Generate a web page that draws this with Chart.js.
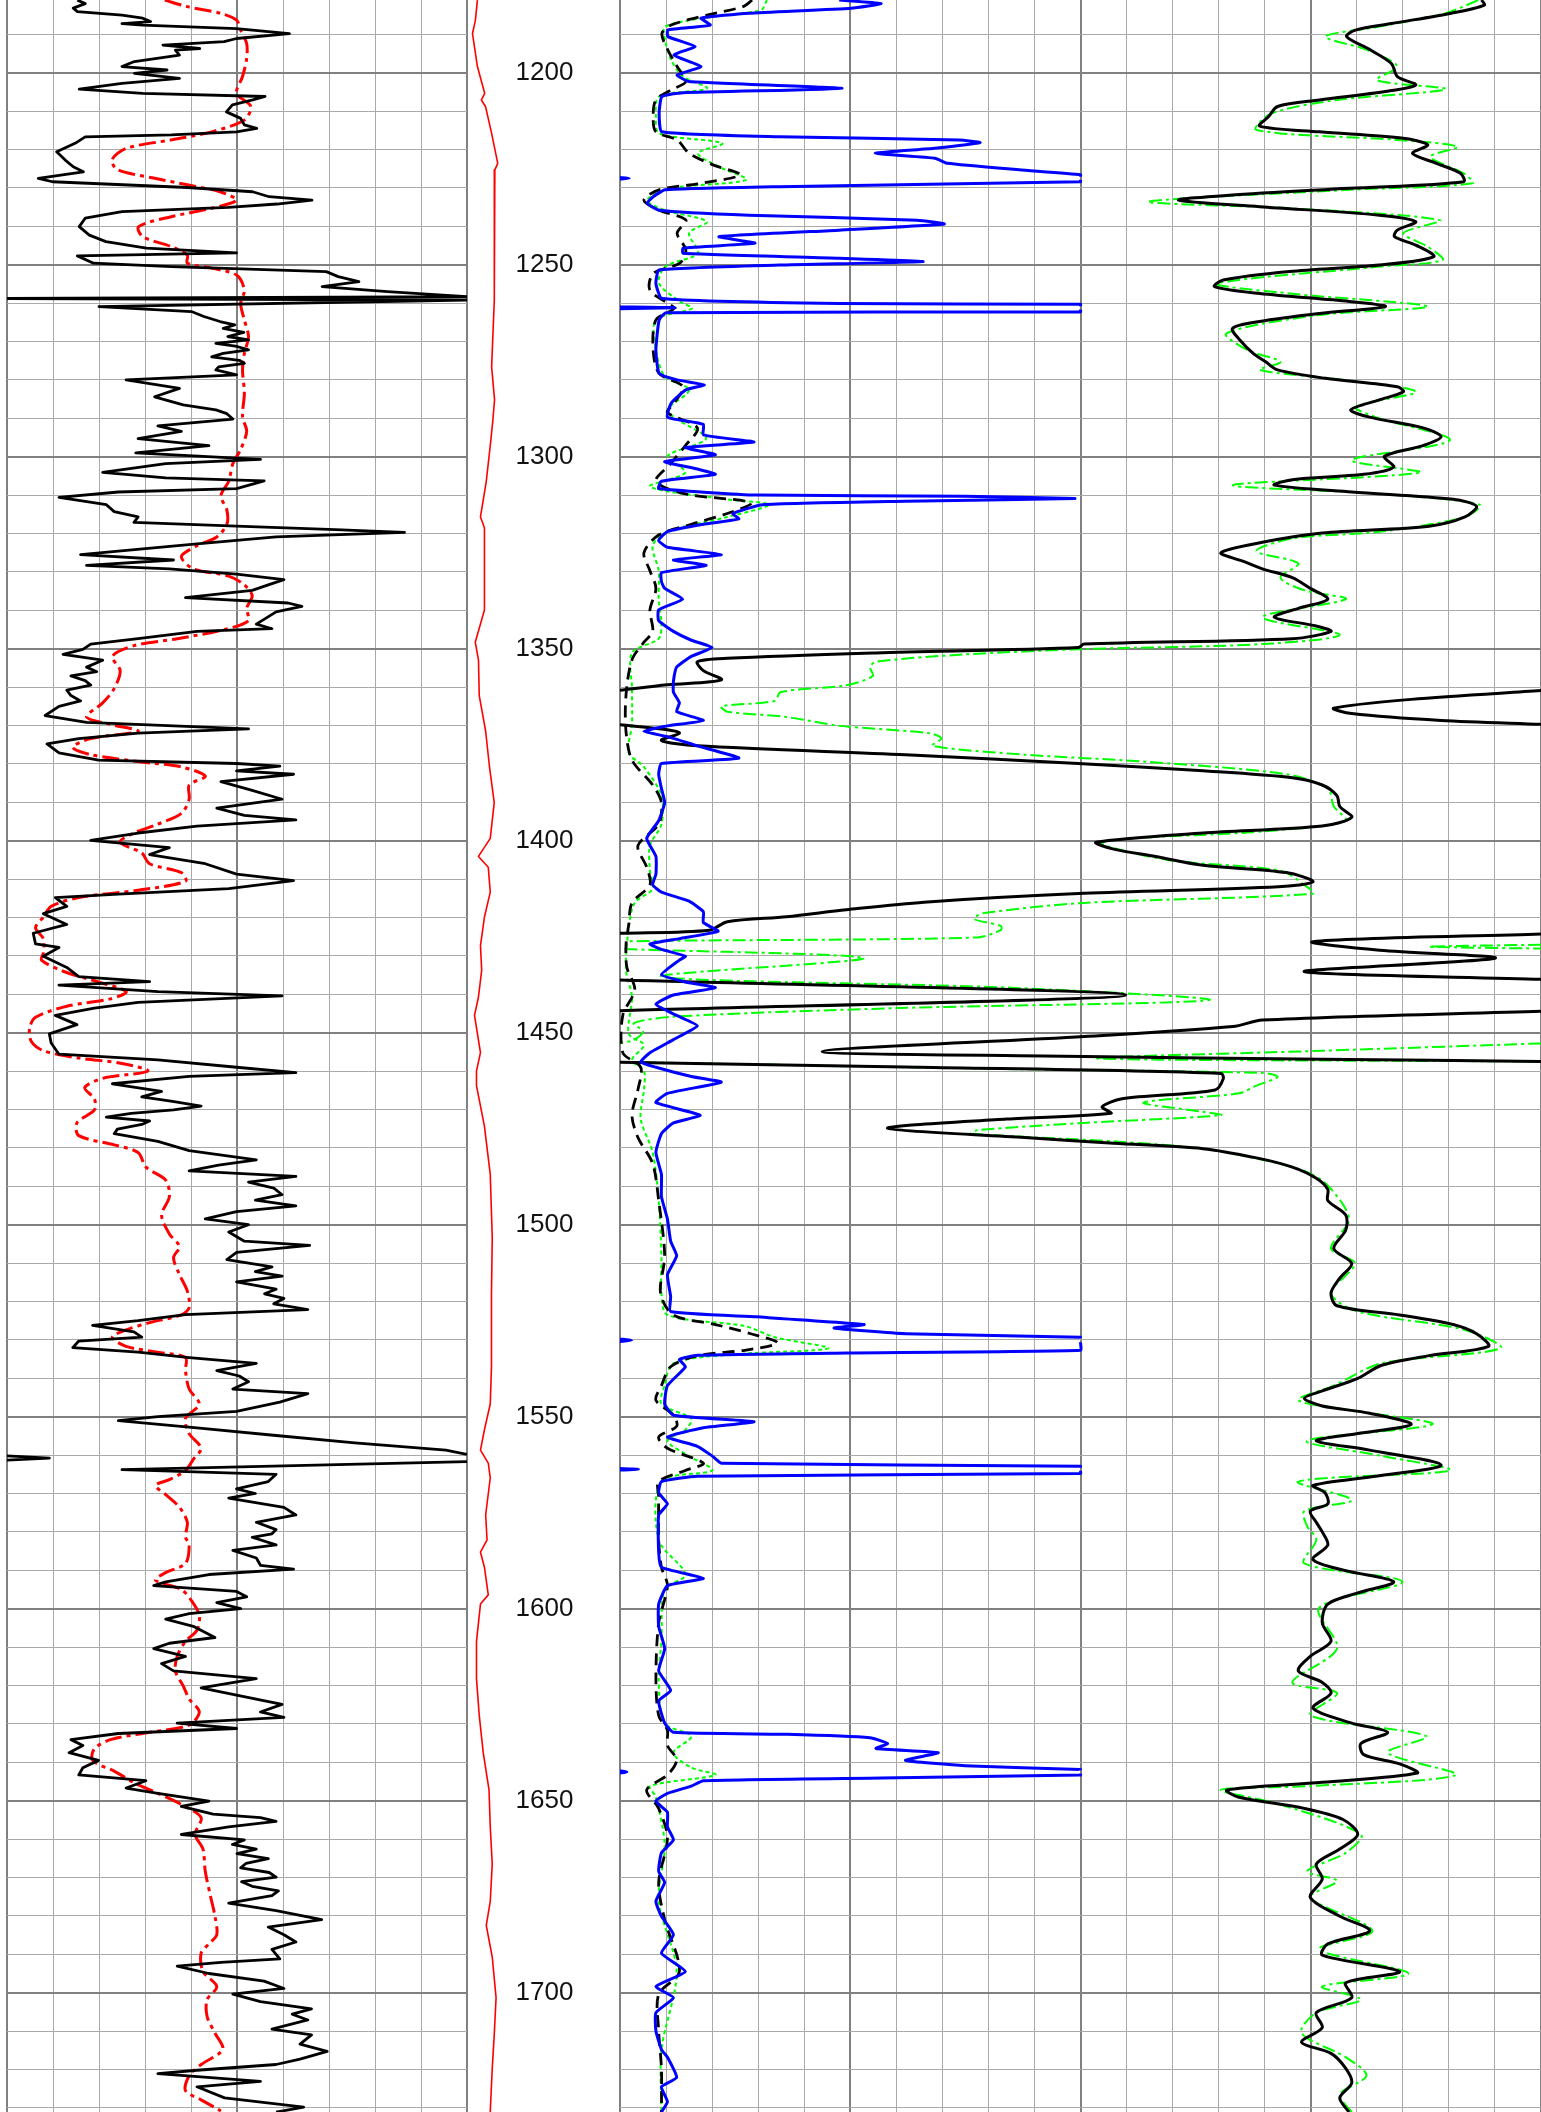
<!DOCTYPE html>
<html><head><meta charset="utf-8">
<script src="https://cdn.jsdelivr.net/npm/chart.js@4.4.1/dist/chart.umd.min.js"></script>
<style>
html,body{margin:0;padding:0;background:#fff;}
#wrap{position:relative;width:1541px;height:2112px;overflow:hidden;background:#fff;}
.trk{position:absolute;top:0;height:2112px;}
canvas{display:block;}
</style></head><body>
<div id="wrap">
 <div class="trk" style="left:0;width:470px"><canvas id="c1" width="470" height="2112"></canvas></div>
 <div class="trk" style="left:467px;width:153px"><canvas id="c2" width="153" height="2112"></canvas></div>
 <div class="trk" style="left:617px;width:924px"><canvas id="c3" width="924" height="2112"></canvas></div>
</div>
<script>
// ---- depth window and tick labels ----
const depthMin = 1181.07;
const depthMax = 1731.07;
const depthLabels = [1200,1250,1300,1350,1400,1450,1500,1550,1600,1650,1700];
const depthGridTicks = [];
for (let d = 1190; d <= 1730; d += 10) depthGridTicks.push(d);
const track1Ticks = [0,1,2,3,4,5,6,7,8,9,10];
const track23Ticks = [0,1,2,3,4,5,6,7,8,9,10,11,12,13,14,15,16,17,18,19,20];

// ---- Track 1: black log (depth, value in grid divisions 0-10) ----
const grLog = [[1181.1,1.53],[1182.0,1.70],[1183.2,1.44],[1184.1,1.53],[1185.0,2.50],[1185.8,2.95],[1186.7,3.12],[1187.2,2.50],[1187.6,2.95],[1188.5,4.99],[1189.8,6.14],[1191.1,4.99],[1191.9,4.72],[1192.8,3.39],[1193.7,4.19],[1194.1,3.66],[1195.4,3.75],[1197.1,2.77],[1198.4,2.50],[1199.3,3.48],[1200.2,2.77],[1201.5,3.75],[1202.8,2.50],[1204.3,1.57],[1205.4,2.95],[1206.2,5.61],[1207.1,5.34],[1208.4,4.90],[1210.2,4.77],[1211.9,5.08],[1213.6,5.16],[1214.5,5.43],[1215.4,4.99],[1216.2,3.57],[1216.7,1.70],[1218.4,1.48],[1220.6,1.08],[1222.7,1.26],[1224.5,1.44],[1225.8,1.66],[1227.5,0.68],[1228.4,0.99],[1229.9,3.92],[1231.0,5.34],[1232.3,5.70],[1233.2,6.63],[1234.2,5.87],[1235.1,4.81],[1236.2,2.50],[1237.9,1.70],[1240.1,1.57],[1242.3,1.79],[1244.0,2.15],[1245.7,3.03],[1246.9,4.99],[1247.7,1.53],[1249.6,1.88],[1250.5,3.57],[1251.8,6.94],[1253.1,7.20],[1254.4,7.65],[1255.7,6.85],[1257.0,8.27],[1258.3,10],[1258.8,0],[1259.2,10],[1260.9,2.00],[1262.2,4.01],[1263.5,4.28],[1264.8,4.63],[1265.7,4.95],[1266.6,4.70],[1267.6,5.15],[1268.7,4.80],[1269.6,5.25],[1270.5,4.54],[1271.3,5.00],[1272.2,5.25],[1273.1,4.70],[1274.0,4.45],[1274.9,5.05],[1275.7,5.16],[1276.6,4.60],[1277.4,4.54],[1278.7,4.99],[1280.0,2.59],[1282.2,3.75],[1284.4,3.21],[1286.5,3.83],[1287.8,4.54],[1288.8,4.78],[1290.2,4.91],[1292.0,3.28],[1293.4,3.79],[1295.3,2.85],[1297.1,4.39],[1299.0,2.80],[1300.7,5.51],[1301.8,3.45],[1304.1,2.08],[1305.5,3.45],[1306.3,5.59],[1308.3,4.99],[1309.2,2.42],[1310.6,1.13],[1312.5,2.16],[1314.3,2.33],[1315.7,2.85],[1317.1,2.76],[1318.1,4.99],[1319.0,7.14],[1319.7,8.64],[1320.9,5.85],[1322.7,4.13],[1324.6,2.42],[1325.5,1.60],[1326.9,3.62],[1328.3,1.73],[1329.2,3.53],[1330.6,4.99],[1332.0,6.02],[1333.4,5.68],[1334.8,5.33],[1336.7,3.88],[1338.1,6.11],[1339.0,6.41],[1340.4,5.85],[1343.6,5.42],[1344.8,5.76],[1345.5,4.13],[1347.4,2.85],[1348.8,1.82],[1350.2,1.65],[1351.5,1.22],[1353.0,2.08],[1354.8,1.73],[1356.0,1.95],[1357.1,1.39],[1358.3,1.70],[1359.5,1.82],[1360.8,1.30],[1362.2,1.39],[1363.6,1.60],[1365.0,1.13],[1367.4,0.83],[1369.2,1.73],[1370.9,5.25],[1372.0,2.85],[1373.4,1.56],[1374.8,0.87],[1377.1,1.13],[1379.0,1.99],[1379.9,4.99],[1380.6,5.93],[1381.8,4.99],[1382.7,6.23],[1384.6,4.65],[1386.9,5.33],[1389.2,5.98],[1391.5,4.56],[1393.4,5.16],[1394.6,6.28],[1396.2,4.13],[1398.0,2.85],[1399.9,1.82],[1401.8,3.53],[1403.6,3.10],[1406.0,4.31],[1408.7,4.99],[1410.4,6.23],[1412.5,4.82],[1413.9,2.42],[1414.8,1.05],[1417.1,1.30],[1419.0,0.79],[1421.8,1.30],[1424.1,0.57],[1426.9,0.62],[1427.8,1.13],[1430.1,0.79],[1433.0,1.30],[1435.4,1.56],[1436.7,3.10],[1437.6,1.13],[1439.3,3.28],[1440.4,5.98],[1442.1,2.85],[1443.6,1.90],[1445.5,1.05],[1447.9,1.52],[1450.3,0.92],[1452.7,0.96],[1455.6,1.13],[1457.1,3.28],[1459.0,4.99],[1460.4,6.28],[1461.4,3.96],[1463.3,2.29],[1465.3,3.36],[1466.7,2.93],[1467.9,3.60],[1469.1,4.22],[1470.1,3.62],[1471.0,2.70],[1472.0,2.16],[1473.0,3.10],[1473.9,2.93],[1475.1,2.40],[1476.3,2.33],[1478.3,3.28],[1480.7,3.96],[1483.1,5.42],[1484.5,4.60],[1486.0,3.96],[1487.4,6.28],[1488.9,5.25],[1490.5,5.80],[1492.2,5.98],[1493.6,5.40],[1495.1,6.28],[1496.6,4.99],[1498.5,4.31],[1500.0,5.25],[1501.9,4.82],[1504.3,5.16],[1505.4,6.58],[1507.2,4.99],[1509.1,4.78],[1511.0,5.76],[1512.2,5.40],[1513.4,5.98],[1514.9,4.99],[1516.8,5.85],[1518.0,5.60],[1519.2,6.02],[1520.6,5.80],[1522.1,6.54],[1523.4,3.88],[1525.0,2.85],[1526.2,1.86],[1527.9,2.76],[1529.3,2.93],[1530.3,1.56],[1532.0,1.43],[1533.2,2.85],[1534.6,3.96],[1536.1,5.42],[1538.0,4.56],[1539.4,5.05],[1540.9,5.25],[1542.8,4.91],[1544.0,6.54],[1546.2,5.93],[1548.6,4.99],[1550.0,3.28],[1551.0,2.42],[1552.9,4.13],[1554.9,5.85],[1556.8,7.56],[1558.7,9.54],[1559.8,10],[1560.0,null],[1560.2,0],[1560.8,0.92],[1561.3,0],[1561.5,null],[1561.7,10],[1563.8,2.50],[1565.0,5.85],[1566.9,5.68],[1568.8,4.99],[1570.0,5.40],[1571.2,4.82],[1573.6,6.02],[1575.6,6.28],[1577.5,5.42],[1579.4,5.85],[1580.5,5.76],[1581.4,5.33],[1583.4,5.85],[1584.8,4.91],[1586.8,5.42],[1588.7,5.51],[1589.7,6.23],[1591.1,4.39],[1593.0,3.45],[1594.0,3.19],[1595.5,4.99],[1596.9,5.21],[1598.4,4.56],[1600.0,5.08],[1601.3,3.96],[1602.7,3.45],[1604.6,4.05],[1607.5,4.52],[1609.0,3.53],[1610.4,3.19],[1612.4,3.88],[1614.3,3.36],[1616.2,3.62],[1618.2,5.42],[1620.6,4.22],[1622.5,4.99],[1624.9,5.98],[1626.9,5.51],[1628.3,6.02],[1629.8,3.70],[1631.2,4.99],[1632.5,2.42],[1634.1,1.39],[1635.6,1.65],[1637.5,1.35],[1639.5,1.99],[1641.4,1.65],[1643.3,1.56],[1644.8,3.02],[1646.7,2.59],[1648.1,3.28],[1650.1,4.39],[1651.5,3.79],[1653.5,4.48],[1654.4,5.51],[1655.4,5.85],[1656.8,4.82],[1658.8,3.79],[1660.2,5.16],[1661.4,4.90],[1662.6,5.42],[1663.8,5.00],[1665.1,5.68],[1666.3,5.20],[1667.5,5.08],[1668.7,5.70],[1669.9,5.85],[1671.1,5.10],[1672.3,5.33],[1673.5,5.90],[1674.7,5.76],[1676.7,4.82],[1678.6,5.85],[1681.0,6.84],[1682.9,5.68],[1684.9,6.02],[1686.8,6.28],[1688.7,5.76],[1691.2,5.93],[1692.1,4.65],[1693.1,3.70],[1695.0,4.39],[1697.0,5.59],[1698.9,6.02],[1700.4,4.91],[1702.3,5.51],[1704.2,6.62],[1705.6,6.20],[1707.1,6.54],[1709.5,5.76],[1711.0,6.62],[1713.4,6.37],[1715.3,6.96],[1717.3,6.37],[1718.7,5.85],[1720.2,4.13],[1721.1,3.28],[1723.1,5.51],[1724.5,4.13],[1727.4,4.73],[1729.8,6.45],[1731.1,5.85]];

// ---- Track 1: red dash-dot log ----
const redLog = [[1181.1,3.43],[1182.8,3.92],[1184.5,4.63],[1186.3,4.99],[1188.9,5.08],[1192.4,5.21],[1196.3,5.21],[1201.0,5.12],[1205.4,4.99],[1208.8,5.30],[1212.3,5.16],[1215.4,4.45],[1217.5,3.57],[1219.7,2.59],[1222.7,2.28],[1225.3,2.41],[1227.5,3.21],[1229.2,3.92],[1231.0,4.63],[1233.2,4.99],[1235.3,4.45],[1237.5,3.57],[1240.1,2.86],[1242.7,2.95],[1245.3,3.57],[1247.5,3.92],[1249.6,3.92],[1250.9,4.45],[1252.7,4.99],[1256.6,5.16],[1260.1,5.08],[1264.4,5.16],[1268.7,5.25],[1273.1,5.16],[1277.4,5.12],[1283.5,5.16],[1289.6,5.12],[1293.4,5.21],[1298.1,5.08],[1301.8,4.91],[1306.4,4.82],[1310.2,4.65],[1313.9,4.78],[1317.6,4.78],[1320.9,4.56],[1323.2,4.13],[1326.0,3.79],[1329.2,4.05],[1331.1,4.82],[1333.4,5.16],[1336.2,5.33],[1339.5,5.21],[1342.7,5.25],[1345.0,4.73],[1347.4,3.70],[1349.2,2.76],[1352.0,2.29],[1355.7,2.46],[1360.4,2.33],[1364.1,2.08],[1367.8,1.73],[1369.7,2.25],[1371.5,2.85],[1373.4,1.82],[1375.7,1.43],[1377.6,1.82],[1379.4,2.85],[1380.8,3.79],[1383.2,4.31],[1385.5,3.96],[1389.2,3.96],[1392.9,3.79],[1395.7,3.28],[1398.0,2.76],[1400.4,2.46],[1403.2,2.93],[1406.0,3.10],[1408.3,3.79],[1410.6,3.88],[1412.9,2.85],[1414.8,1.56],[1417.1,0.96],[1419.9,0.79],[1422.7,0.62],[1425.5,0.79],[1429.2,0.79],[1431.1,0.75],[1434.0,1.22],[1436.8,1.99],[1439.3,2.59],[1441.2,2.25],[1443.1,1.30],[1446.0,0.62],[1448.9,0.49],[1452.3,0.53],[1454.7,0.79],[1456.6,1.56],[1458.0,2.50],[1460.0,3.06],[1461.9,2.08],[1464.3,1.69],[1467.2,1.90],[1470.1,1.90],[1473.5,1.52],[1476.8,1.56],[1479.2,2.33],[1481.2,2.85],[1485.0,3.02],[1488.4,3.45],[1492.7,3.53],[1497.5,3.36],[1502.4,3.53],[1505.7,3.75],[1508.6,3.62],[1513.0,3.75],[1517.3,3.92],[1521.6,3.96],[1523.5,3.79],[1525.5,3.10],[1527.4,2.59],[1529.3,2.29],[1531.7,2.59],[1533.2,3.28],[1534.6,3.88],[1538.0,3.88],[1542.8,3.96],[1546.7,4.18],[1550.5,3.88],[1554.4,3.96],[1558.2,4.22],[1561.1,4.05],[1564.0,3.88],[1566.4,3.53],[1567.9,3.23],[1570.3,3.45],[1573.6,3.75],[1577.5,3.92],[1581.3,3.88],[1583.4,3.96],[1588.2,3.88],[1590.6,3.45],[1592.6,3.23],[1595.0,3.79],[1597.9,4.01],[1601.7,4.18],[1605.6,4.13],[1608.5,3.88],[1612.4,3.70],[1616.2,3.66],[1620.1,3.83],[1623.5,3.96],[1626.9,4.18],[1630.3,3.96],[1632.2,3.10],[1634.1,2.25],[1636.5,1.90],[1639.5,1.86],[1642.3,2.33],[1645.3,2.76],[1648.1,3.28],[1651.0,3.79],[1654.4,4.22],[1658.8,4.09],[1662.6,4.26],[1668.4,4.31],[1675.2,4.43],[1680.0,4.52],[1684.9,4.56],[1687.3,4.39],[1689.7,4.22],[1694.5,4.26],[1698.4,4.56],[1701.8,4.35],[1706.2,4.35],[1710.5,4.52],[1714.8,4.69],[1718.7,4.22],[1721.6,3.96],[1725.5,3.88],[1727.9,4.22],[1730.8,4.65]];

// ---- Depth track: thin red log ----
const depthTrackLog = [[1181.1,0.68],[1186.3,0.55],[1189.8,0.36],[1198.4,0.68],[1205.4,1.16],[1207.1,0.94],[1208.8,1.21],[1215.8,1.61],[1223.6,2.01],[1225.3,1.82],[1241.8,1.80],[1259.2,1.77],[1276.6,1.61],[1285.2,1.80],[1290.5,1.69],[1297.1,1.52],[1306.4,1.26],[1315.7,0.88],[1318.5,1.14],[1329.7,1.14],[1339.9,1.14],[1348.3,0.54],[1352.9,0.75],[1362.2,0.80],[1371.5,1.22],[1380.8,1.47],[1390.1,1.78],[1399.4,1.52],[1404.1,0.75],[1406.9,1.39],[1413.4,1.52],[1419.9,1.14],[1427.3,0.88],[1433.7,0.96],[1440.7,0.75],[1445.5,0.49],[1455.2,0.88],[1460.0,0.62],[1463.8,0.62],[1474.4,1.14],[1486.9,1.52],[1503.3,1.65],[1517.8,1.60],[1537.0,1.60],[1546.7,1.52],[1553.4,1.14],[1558.7,0.88],[1562.1,1.39],[1565.9,1.52],[1575.6,1.22],[1582.1,1.31],[1585.3,0.88],[1589.2,1.14],[1596.4,1.39],[1598.8,0.88],[1608.5,0.62],[1618.2,0.62],[1627.8,0.80],[1637.5,1.06],[1647.2,1.44],[1656.8,1.52],[1666.5,1.65],[1676.2,1.52],[1682.5,1.26],[1690.7,1.65],[1701.3,1.90],[1711.0,1.78],[1719.7,1.65],[1731.1,1.52]];

// ---- Track 2: blue log (scale 0-20 spans tracks 2 and 3) ----
const blueLog = [[1181.1,4.76],[1182.0,5.67],[1183.2,5.02],[1184.5,2.80],[1185.8,1.76],[1187.6,1.96],[1188.9,1.04],[1190.6,1.04],[1193.2,1.63],[1195.4,1.17],[1198.4,1.76],[1200.6,1.24],[1202.3,1.50],[1204.1,4.82],[1205.2,1.37],[1206.2,0.91],[1210.6,0.85],[1215.4,0.91],[1216.7,3.46],[1217.5,7.37],[1218.2,7.82],[1219.7,6.84],[1221.0,5.54],[1222.3,6.84],[1223.6,7.11],[1225.3,8.67],[1226.6,10],[1227.1,10],[1227.2,null],[1227.3,0],[1227.5,0.2],[1227.7,0],[1227.8,null],[1227.9,10],[1228.4,10],[1229.7,3.46],[1230.5,0.98],[1232.3,0.72],[1234.0,0.59],[1235.8,0.85],[1237.1,2.80],[1238.4,6.45],[1239.4,7.04],[1241.0,4.76],[1242.7,2.15],[1244.4,2.93],[1245.7,1.37],[1247.0,1.37],[1248.3,4.76],[1249.2,6.58],[1250.1,3.46],[1251.4,0.85],[1254.9,0.78],[1258.8,0.91],[1260.1,4.76],[1260.3,10],[1260.8,10],[1260.9,null],[1261.0,0],[1261.2,1.2],[1261.5,0],[1261.6,null],[1261.7,10],[1262.3,10],[1262.5,1.0],[1264.4,0.85],[1272.2,0.78],[1278.3,0.85],[1280.0,1.24],[1281.3,1.83],[1282.6,1.43],[1286.1,1.11],[1289.7,1.03],[1291.6,1.81],[1294.3,1.81],[1296.2,2.91],[1297.6,1.42],[1299.5,2.07],[1301.3,0.97],[1303.2,1.68],[1304.6,2.07],[1306.4,0.90],[1308.3,0.84],[1310.0,2.97],[1310.3,7.49],[1310.9,9.88],[1311.6,6.20],[1312.5,3.10],[1314.8,2.45],[1316.2,2.58],[1317.6,1.81],[1319.5,1.03],[1321.8,0.84],[1323.6,1.03],[1325.5,2.20],[1326.9,1.16],[1328.3,1.87],[1330.2,0.90],[1332.5,0.90],[1334.3,0.97],[1337.1,1.36],[1339.9,0.84],[1342.7,0.84],[1345.5,1.16],[1347.8,1.55],[1349.7,2.00],[1352.0,1.55],[1354.8,1.23],[1358.5,1.16],[1361.3,1.16],[1364.1,1.29],[1366.4,1.23],[1368.7,1.81],[1370.1,1.03],[1371.5,0.52],[1372.9,1.03],[1375.3,1.68],[1378.5,2.58],[1379.9,0.90],[1382.7,0.84],[1386.4,0.90],[1390.1,0.97],[1394.8,0.84],[1399.4,0.58],[1404.1,0.78],[1408.7,0.78],[1411.5,0.71],[1413.4,0.90],[1415.7,1.49],[1418.5,1.81],[1421.3,1.81],[1423.6,2.13],[1425.5,1.29],[1426.9,0.65],[1428.3,0.90],[1430.1,1.42],[1431.1,1.29],[1434.9,0.90],[1436.8,1.42],[1438.3,2.07],[1440.2,1.16],[1442.6,0.78],[1445.5,1.23],[1448.2,1.68],[1451.8,1.16],[1455.2,0.65],[1457.6,0.45],[1459.0,0.78],[1461.4,1.55],[1462.9,2.20],[1465.8,1.03],[1468.2,0.78],[1471.5,1.74],[1473.5,1.16],[1476.3,0.90],[1481.2,0.78],[1486.9,0.90],[1492.7,0.90],[1498.5,1.03],[1504.3,1.10],[1508.1,1.23],[1513.0,1.03],[1518.7,1.10],[1522.6,1.10],[1524.0,2.97],[1526.0,5.30],[1526.9,4.65],[1528.4,6.20],[1529.3,10],[1529.6,10],[1529.7,null],[1529.8,0],[1530.1,0.25],[1530.4,0],[1530.5,null],[1530.6,10],[1532.7,10],[1533.4,4.91],[1534.0,1.68],[1535.1,1.29],[1537.0,1.42],[1541.9,1.03],[1546.7,0.97],[1549.6,1.16],[1551.3,2.91],[1552.9,1.81],[1555.3,1.03],[1557.7,1.68],[1560.2,2.00],[1562.1,2.20],[1562.9,10],[1563.3,10],[1563.4,null],[1563.5,0],[1563.7,0.4],[1563.9,0],[1564.0,null],[1564.1,10],[1564.8,10],[1565.5,1.68],[1566.9,0.90],[1569.8,0.84],[1572.7,1.03],[1575.6,0.84],[1585.3,0.84],[1589.2,0.90],[1592.1,1.81],[1594.0,1.03],[1598.8,0.84],[1604.6,0.84],[1610.4,0.97],[1616.2,0.84],[1621.3,1.10],[1624.0,0.84],[1629.8,0.97],[1632.2,1.16],[1632.7,3.62],[1633.6,5.43],[1635.1,5.81],[1636.4,5.56],[1637.5,6.91],[1639.5,6.20],[1640.9,7.49],[1641.9,10],[1642.1,10],[1642.15,null],[1642.2,0],[1642.5,0.15],[1642.8,0],[1642.85,null],[1642.9,10],[1643.3,10],[1644.1,5.68],[1644.8,1.81],[1646.2,1.55],[1648.1,1.03],[1650.1,0.78],[1653.0,1.03],[1656.8,1.03],[1660.2,1.16],[1663.6,0.90],[1668.4,0.84],[1671.3,0.97],[1676.2,0.78],[1680.1,0.90],[1684.9,1.16],[1689.7,0.90],[1694.5,1.42],[1698.4,0.78],[1701.3,1.16],[1705.2,0.78],[1710.0,0.78],[1714.8,0.90],[1716.8,1.03],[1722.1,1.23],[1724.5,0.90],[1728.4,1.03],[1731.1,0.90]];

// ---- Track 2: black dashed log ----
const dashLog = [[1181.1,2.87],[1182.8,2.67],[1185.0,1.89],[1187.6,1.11],[1189.8,0.91],[1194.1,1.04],[1198.4,1.24],[1202.3,1.43],[1204.5,1.11],[1207.1,0.78],[1211.5,0.72],[1215.4,0.78],[1217.5,1.24],[1221.0,1.50],[1224.0,2.02],[1226.6,2.61],[1228.8,1.76],[1230.5,0.85],[1233.2,0.52],[1235.8,0.85],[1238.4,1.43],[1241.8,1.24],[1246.2,1.43],[1249.6,1.30],[1252.3,0.72],[1256.6,0.65],[1260.1,1.04],[1261.4,1.17],[1264.4,0.78],[1272.2,0.72],[1278.3,0.85],[1281.8,1.37],[1286.1,1.17],[1288.5,1.03],[1292.5,1.68],[1297.1,1.42],[1301.8,1.10],[1306.4,0.78],[1309.7,1.42],[1312.0,2.84],[1314.8,2.33],[1317.6,1.55],[1320.4,0.84],[1325.0,0.52],[1329.7,0.65],[1334.3,0.78],[1339.9,0.65],[1345.5,0.71],[1348.3,0.52],[1352.9,0.26],[1362.2,0.13],[1371.5,0.13],[1379.0,0.26],[1385.5,0.71],[1390.1,0.90],[1395.7,0.84],[1401.3,0.39],[1406.9,0.58],[1411.5,0.65],[1416.2,0.26],[1421.8,0.19],[1427.3,0.13],[1433.0,0.15],[1438.8,0.32],[1445.5,0.06],[1455.2,0.06],[1459.0,0.45],[1464.8,0.39],[1471.5,0.26],[1477.3,0.39],[1484.1,0.71],[1493.7,0.84],[1508.1,0.97],[1517.8,0.88],[1523.5,1.16],[1526.0,2.07],[1528.4,2.84],[1530.8,3.42],[1532.7,2.71],[1534.1,1.68],[1537.0,1.10],[1541.9,0.90],[1545.7,0.78],[1549.6,1.16],[1552.5,1.23],[1555.3,0.84],[1558.2,1.03],[1562.1,1.81],[1564.0,1.42],[1566.9,0.84],[1570.8,0.84],[1582.1,0.84],[1589.2,0.90],[1594.0,1.03],[1603.7,0.84],[1618.2,0.78],[1627.8,0.84],[1631.7,1.03],[1635.6,1.03],[1639.4,1.23],[1643.3,1.03],[1647.2,0.58],[1652.0,0.84],[1659.7,1.03],[1671.3,0.84],[1681.0,0.97],[1694.5,1.29],[1700.4,0.84],[1710.0,0.84],[1719.7,0.90],[1731.1,0.90]];

// ---- Track 2: green dotted log ----
const dotLog = [[1181.1,3.19],[1183.7,3.06],[1185.4,2.02],[1188.0,0.98],[1191.5,0.98],[1196.7,1.11],[1201.0,1.37],[1204.1,1.89],[1206.2,0.85],[1211.5,0.78],[1215.8,0.85],[1218.4,2.22],[1221.0,1.69],[1224.5,2.15],[1227.9,2.74],[1230.1,1.11],[1233.2,0.59],[1235.8,0.98],[1238.8,1.89],[1241.8,1.50],[1247.0,1.69],[1250.5,0.98],[1254.9,0.85],[1259.6,1.30],[1261.4,1.56],[1264.4,0.78],[1272.2,0.78],[1279.2,0.98],[1282.6,1.50],[1287.8,1.03],[1290.6,1.29],[1295.3,1.87],[1299.9,1.03],[1304.1,1.42],[1307.8,0.65],[1311.1,2.33],[1312.5,3.23],[1315.7,2.33],[1319.5,1.03],[1323.2,0.71],[1329.7,0.84],[1337.1,0.84],[1343.6,0.90],[1347.4,0.84],[1351.1,0.26],[1360.4,0.26],[1369.7,0.26],[1377.1,0.19],[1380.8,0.52],[1388.3,0.90],[1395.7,0.90],[1401.3,0.65],[1407.8,0.65],[1412.5,0.71],[1416.2,0.32],[1422.7,0.19],[1433.7,0.13],[1440.7,0.26],[1450.3,0.19],[1453.2,0.52],[1457.1,0.26],[1460.0,0.52],[1464.8,0.52],[1472.5,0.45],[1481.2,0.71],[1493.7,0.84],[1508.1,0.90],[1517.8,0.90],[1523.5,1.03],[1526.4,2.71],[1529.3,3.36],[1532.2,4.52],[1533.7,2.58],[1536.1,1.16],[1541.9,0.97],[1546.7,0.90],[1550.5,1.55],[1553.4,1.42],[1556.3,1.03],[1560.6,1.55],[1564.0,2.00],[1566.9,0.90],[1582.1,0.84],[1591.1,1.42],[1595.0,0.97],[1608.5,0.90],[1618.2,0.84],[1629.8,0.97],[1633.2,1.55],[1637.5,1.16],[1641.4,1.55],[1643.3,2.07],[1646.2,0.65],[1649.1,0.78],[1661.7,0.97],[1676.2,0.84],[1694.5,1.23],[1714.8,0.90],[1731.1,0.90]];

// ---- Track 3: black solid log (wraps across tracks 2+3) ----
const solid3Log = [[1181.1,18.71],[1182.4,18.77],[1184.5,18.06],[1187.2,16.75],[1188.9,15.97],[1190.6,15.78],[1194.1,16.30],[1197.6,16.75],[1201.0,16.88],[1203.2,17.28],[1204.9,16.62],[1207.1,15.19],[1208.8,14.28],[1211.5,14.08],[1213.9,13.89],[1215.4,15.19],[1217.1,17.01],[1218.8,17.54],[1221.0,17.21],[1223.6,17.73],[1226.2,18.25],[1228.4,18.32],[1230.1,15.84],[1231.9,13.23],[1233.2,12.13],[1234.9,13.89],[1237.1,16.49],[1238.8,17.28],[1241.0,16.88],[1242.7,16.82],[1244.9,17.28],[1247.9,17.67],[1250.1,16.49],[1251.8,14.54],[1254.0,13.10],[1255.7,12.91],[1257.5,13.89],[1259.6,15.84],[1260.9,16.62],[1262.7,15.19],[1264.8,13.89],[1266.6,13.30],[1270.0,13.49],[1273.1,13.75],[1275.3,14.02],[1277.4,14.28],[1279.6,15.32],[1281.8,16.88],[1283.1,17.01],[1285.2,16.49],[1287.8,15.87],[1289.7,16.28],[1292.5,17.44],[1294.8,17.83],[1297.1,17.44],[1299.9,16.60],[1302.7,16.80],[1304.6,16.15],[1306.0,14.60],[1307.4,14.21],[1309.2,15.89],[1311.1,18.09],[1312.9,18.60],[1315.7,18.35],[1318.1,17.57],[1319.9,15.25],[1322.3,13.95],[1325.0,13.05],[1327.4,13.57],[1329.2,13.95],[1331.5,14.60],[1334.3,14.99],[1337.1,15.37],[1339.5,14.73],[1341.8,14.21],[1344.1,15.12],[1345.5,15.44],[1347.4,14.60],[1348.8,10.08],[1349.7,9.95],[1351.1,5.56],[1352.5,2.33],[1353.4,1.68],[1355.7,1.81],[1358.1,2.20],[1359.4,1.03],[1360.8,0],[1360.85,null],[1360.9,20],[1363.2,17.18],[1365.5,15.50],[1366.9,15.89],[1368.7,17.83],[1369.7,20],[1369.75,null],[1369.8,0],[1371.1,1.03],[1372.0,1.29],[1373.9,0.90],[1375.3,1.68],[1377.6,6.20],[1379.9,9.95],[1381.8,12.66],[1383.6,14.60],[1385.5,15.25],[1388.3,15.57],[1391.1,15.63],[1393.9,15.89],[1396.2,15.25],[1398.0,12.66],[1400.4,10.34],[1402.2,10.72],[1404.1,11.63],[1406.4,12.66],[1408.3,14.47],[1410.7,15.05],[1412.0,14.30],[1413.7,10.08],[1416.0,6.60],[1418.0,4.91],[1419.8,3.62],[1421.1,2.33],[1423.3,1.94],[1424.1,0],[1424.15,null],[1424.3,20],[1426.3,15.05],[1428.5,16.50],[1430.6,19.0],[1434.1,14.86],[1436.1,20],[1436.2,null],[1436.3,0],[1440.2,10.98],[1444.3,0],[1444.35,null],[1444.4,20],[1446.7,13.95],[1448.4,13.31],[1451.0,10.08],[1454.9,4.39],[1456.2,10.08],[1456.9,15.25],[1457.5,20],[1457.6,null],[1457.7,0],[1459.0,6.50],[1460.6,13.05],[1462.0,13.10],[1464.9,12.92],[1467.2,10.90],[1469.3,10.47],[1471.0,10.66],[1472.5,8.40],[1474.9,5.81],[1477.3,8.79],[1478.8,10.72],[1480.2,12.66],[1482.6,13.82],[1485.0,14.60],[1487.9,15.12],[1490.8,15.37],[1493.7,15.37],[1497.5,15.76],[1501.4,15.76],[1506.2,15.50],[1510.1,15.89],[1513.9,15.63],[1517.8,15.44],[1521.1,15.57],[1523.5,16.93],[1526.0,18.09],[1528.4,18.60],[1531.7,18.86],[1534.1,17.57],[1536.6,16.54],[1540.0,16.02],[1543.3,15.25],[1545.2,14.86],[1547.2,15.25],[1549.1,16.28],[1552.0,17.18],[1554.4,16.02],[1556.3,15.12],[1558.7,16.28],[1562.6,17.83],[1565.5,16.41],[1567.9,15.05],[1569.8,15.31],[1572.7,15.37],[1574.6,14.99],[1577.5,15.12],[1580.0,15.25],[1583.4,15.37],[1587.2,15.05],[1590.1,15.76],[1593.0,16.80],[1595.9,16.02],[1598.8,15.37],[1603.7,15.25],[1608.5,15.44],[1612.4,14.99],[1616.2,14.73],[1619.2,15.25],[1622.0,15.44],[1625.9,15.05],[1629.8,15.89],[1632.2,16.67],[1635.1,16.09],[1638.0,16.15],[1640.4,16.93],[1642.8,17.31],[1645.2,15.25],[1647.2,13.18],[1649.1,13.44],[1652.0,14.86],[1654.9,15.70],[1658.8,16.02],[1662.6,15.63],[1666.5,15.12],[1670.4,15.25],[1675.2,14.99],[1680.1,15.63],[1683.9,16.28],[1687.3,15.37],[1690.2,15.25],[1694.5,16.93],[1697.4,15.76],[1701.3,15.89],[1705.2,15.12],[1709.1,15.25],[1712.9,14.80],[1715.8,15.44],[1719.7,15.76],[1723.5,15.89],[1727.4,15.63],[1731.1,15.83]];

// ---- Track 3: green dash-dot log ----
const green3Log = [[1181.1,18.64],[1184.5,17.93],[1188.0,16.49],[1190.6,15.32],[1194.1,16.23],[1198.4,16.88],[1201.9,16.43],[1204.3,17.93],[1207.1,15.58],[1210.6,14.15],[1214.9,13.82],[1217.5,16.88],[1219.3,18.19],[1221.9,17.60],[1226.2,18.32],[1228.8,18.51],[1230.5,15.84],[1233.6,11.47],[1235.3,14.54],[1238.4,17.80],[1241.8,17.01],[1245.3,17.54],[1248.8,17.86],[1250.5,16.49],[1254.9,12.97],[1257.5,14.54],[1260.9,17.54],[1263.1,15.19],[1267.9,13.17],[1272.2,13.62],[1275.3,14.34],[1277.4,13.89],[1280.0,15.71],[1283.1,17.28],[1287.0,15.97],[1289.7,16.41],[1295.7,18.02],[1300.9,15.89],[1304.1,17.38],[1307.4,13.31],[1309.7,16.54],[1312.5,18.67],[1315.7,18.35],[1319.5,16.54],[1321.3,14.60],[1324.6,13.82],[1327.8,14.73],[1331.5,14.34],[1334.8,14.86],[1337.1,15.76],[1341.8,13.95],[1346.4,15.63],[1348.8,13.95],[1350.1,10.08],[1351.5,7.49],[1353.4,5.56],[1354.8,5.43],[1357.1,5.49],[1359.5,4.91],[1361.3,3.49],[1363.6,3.36],[1365.0,2.20],[1366.4,2.33],[1367.8,3.62],[1370.1,4.78],[1372.0,6.72],[1373.4,6.98],[1375.3,6.78],[1377.6,8.79],[1379.4,11.37],[1382.7,14.47],[1386.4,15.37],[1391.1,15.50],[1394.8,15.76],[1397.6,13.95],[1400.4,10.47],[1405.0,11.89],[1407.8,14.34],[1411.5,14.86],[1413.8,15.05],[1416.2,10.08],[1418.9,7.88],[1420.4,7.69],[1422.2,8.27],[1423.3,8.27],[1425.2,7.75],[1426.2,0.2],[1426.8,0.2],[1427.0,null],[1427.1,20],[1427.6,17.57],[1428.1,20],[1428.15,null],[1428.2,0.1],[1430.6,5.30],[1435.4,0.90],[1438.3,8.50],[1441.5,12.79],[1443.6,6.00],[1445.8,1.20],[1447.5,0.30],[1449.7,0.50],[1451.9,0.30],[1452.7,0],[1452.75,null],[1452.8,20],[1454.7,15.25],[1456.7,10.34],[1457.5,20],[1457.55,null],[1457.6,0],[1459.5,8.60],[1460.5,13.95],[1461.5,14.28],[1463.8,13.82],[1465.8,13.44],[1468.2,11.37],[1470.6,12.66],[1471.5,13.05],[1473.5,10.08],[1475.4,7.75],[1476.3,7.62],[1478.3,10.72],[1480.2,12.66],[1483.1,13.95],[1486.0,14.86],[1489.8,15.37],[1498.5,15.83],[1506.2,15.44],[1510.1,15.96],[1517.8,15.44],[1522.6,16.02],[1527.4,18.35],[1532.2,19.12],[1536.1,16.54],[1541.9,15.50],[1545.7,14.73],[1548.6,16.02],[1552.0,17.64],[1556.3,14.92],[1560.2,16.54],[1564.0,18.02],[1566.9,14.73],[1571.7,15.89],[1574.6,14.86],[1578.5,14.92],[1582.1,15.12],[1588.2,14.86],[1593.0,16.99],[1599.8,15.18],[1610.4,15.57],[1619.2,14.60],[1622.0,15.57],[1627.8,14.99],[1633.2,17.51],[1637.5,16.67],[1643.3,18.15],[1646.2,14.99],[1647.2,13.05],[1651.0,14.34],[1658.8,16.09],[1663.6,15.76],[1668.4,14.92],[1670.9,15.57],[1675.2,14.99],[1683.9,16.34],[1688.7,15.18],[1695.0,17.12],[1698.4,15.25],[1701.8,16.09],[1705.2,15.12],[1710.5,14.80],[1716.8,15.76],[1721.6,16.21],[1726.5,15.63],[1731.1,15.89]];

// ---------------------------------------------------------------
const toPoints = log => log.map(p => ({ x: p[1], y: p[0] }));
const MAJOR = '#808080', MINOR = '#aaaaaa';

function xAxis(max, ticks, show) {
  return {
    type: 'linear', min: 0, max: max, display: show,
    ticks: { display: false }, border: { display: false },
    grid: {
      drawTicks: false,
      color: c => (c.tick && c.tick.value % 5 === 0) ? MAJOR : MINOR,
      lineWidth: c => (c.tick && c.tick.value % 5 === 0) ? 2 : 1
    },
    afterBuildTicks: s => { s.ticks = ticks.map(v => ({ value: v })); }
  };
}
function yAxis(show) {
  return {
    type: 'linear', min: depthMin, max: depthMax, reverse: true, display: show,
    ticks: { display: false }, border: { display: false },
    grid: {
      drawTicks: false,
      color: c => (c.tick && c.tick.value % 50 === 0) ? MAJOR : MINOR,
      lineWidth: c => (c.tick && c.tick.value % 50 === 0) ? 2 : 1
    },
    afterBuildTicks: s => { s.ticks = depthGridTicks.map(v => ({ value: v })); }
  };
}
function ds(log, color, width, dash, tension) {
  return { data: toPoints(log), showLine: true, borderColor: color, backgroundColor: color,
    borderWidth: width, borderDash: dash, tension: tension, pointRadius: 0, spanGaps: false,
    borderCapStyle: 'butt', borderJoinStyle: 'round' };
}
function make(id, pad, datasets, xCfg, yCfg, plugins) {
  return new Chart(document.getElementById(id), {
    type: 'scatter',
    data: { datasets },
    options: {
      responsive: false, animation: false, devicePixelRatio: 1, events: [],
      layout: { padding: pad },
      plugins: { legend: { display: false }, tooltip: { enabled: false } },
      elements: { point: { radius: 0, hoverRadius: 0 } },
      scales: { x: xCfg, y: yCfg }
    },
    plugins: plugins || []
  });
}

// Track 1
make('c1', { left: 7, right: 3, top: 0, bottom: 0 }, [
  ds(grLog, '#000000', 2.8, [], 0),
  ds(redLog, '#ff0000', 3, [17, 5, 4, 5], 0.3)
], xAxis(10, track1Ticks, true), yAxis(true));

// Depth track with labels
const depthLabelPlugin = {
  id: 'depthLabelPlugin',
  afterDatasetsDraw(chart) {
    const { ctx, chartArea, scales } = chart;
    ctx.save();
    ctx.font = '26px "Liberation Sans", Arial, sans-serif';
    ctx.fillStyle = '#111111';
    ctx.textAlign = 'center';
    ctx.textBaseline = 'middle';
    const cx = (chartArea.left + chartArea.right) / 2 + 1;
    depthLabels.forEach(d => ctx.fillText(String(d), cx, scales.y.getPixelForValue(d)));
    ctx.restore();
  }
};
make('c2', { left: 0, right: 0, top: 0, bottom: 0 }, [
  ds(depthTrackLog, '#ff0000', 1.6, [], 0)
], xAxis(10, track1Ticks, false), yAxis(false), [depthLabelPlugin]);

// Tracks 2 + 3
make('c3', { left: 3, right: 0, top: 0, bottom: 0 }, [
  ds(blueLog, '#0000ff', 3, [], 0.15),
  ds(solid3Log, '#000000', 3, [], 0.3),
  ds(dashLog, '#000000', 2.8, [12, 7], 0.3),
  ds(green3Log, '#00ff00', 2, [13, 4, 3, 4], 0.3),
  ds(dotLog, '#00ff00', 2, [4, 3], 0.3)
], xAxis(20, track23Ticks, true), yAxis(true));
</script>
</body></html>
